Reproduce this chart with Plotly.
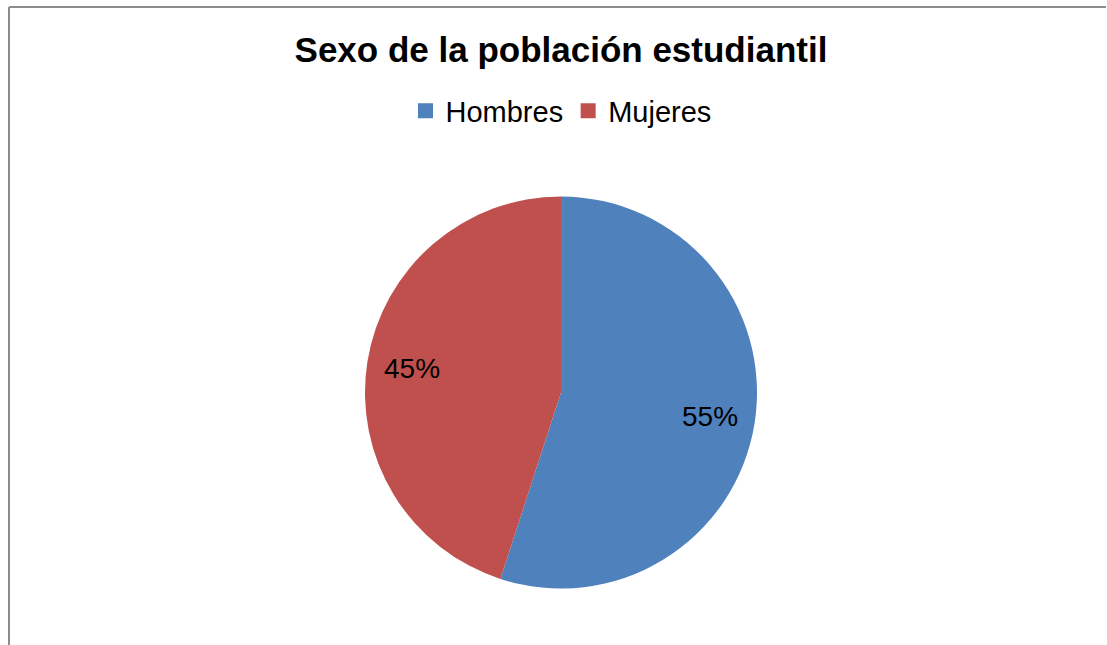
import math
import plotly.graph_objects as go

categories = ["Hombres", "Mujeres"]
values = [55, 45]
colors = ["#4F81BD", "#C0504D"]

W, H = 1107, 645
cx, cy, r = 561, 392.5, 196
label_r = 0.77  # fraction of radius where percentage labels sit

fig = go.Figure()
fig.add_trace(go.Pie(
    labels=categories,
    values=values,
    sort=False,
    direction="clockwise",
    rotation=0,
    marker=dict(colors=colors, line=dict(width=0)),
    textinfo="none",
    showlegend=False,
    domain=dict(x=[(cx - r) / W, (cx + r) / W], y=[1 - (cy + r) / H, 1 - (cy - r) / H]),
    hoverinfo="label+percent",
))

for name, col in zip(categories, colors):
    fig.add_trace(go.Scatter(x=[None], y=[None], mode="markers", name=name,
                             marker=dict(symbol="square", size=15, color=col),
                             hoverinfo="skip"))

total = sum(values)
annotations = []
cum = 0
for v in values:
    mid = (cum + v / 2) / total * 2 * math.pi
    cum += v
    px = cx + label_r * r * math.sin(mid)
    py = cy - label_r * r * math.cos(mid)
    annotations.append(dict(x=px / W, y=1 - py / H, xref="paper", yref="paper",
                            text=f"{round(v / total * 100)}%", showarrow=False,
                            xanchor="center", yanchor="middle",
                            font=dict(family="Liberation Sans, Arial", size=28, color="black")))

fig.update_layout(
    width=W, height=H,
    margin=dict(l=0, r=0, t=0, b=0),
    paper_bgcolor="white",
    plot_bgcolor="white",
    font=dict(family="Liberation Sans, Arial", color="black"),
    xaxis=dict(visible=False), yaxis=dict(visible=False),
    title=dict(text="<b>Sexo de la población estudiantil</b>", x=cx / W, xanchor="center",
               y=1 - 50 / H, yanchor="middle", font=dict(size=35, color="black")),
    legend=dict(orientation="h", x=cx / W, xanchor="center", y=1 - 111 / H, yanchor="middle",
                font=dict(size=29), itemwidth=30, traceorder="normal"),
    annotations=annotations,
    shapes=[
        dict(type="line", xref="paper", yref="paper", x0=9 / W, x1=9 / W, y0=0, y1=1 - 7 / H,
             line=dict(color="#8c8c8c", width=2)),
        dict(type="line", xref="paper", yref="paper", x0=9 / W, x1=1 - 1 / W, y0=1 - 7 / H, y1=1 - 7 / H,
             line=dict(color="#8c8c8c", width=2)),
    ],
)

fig.write_html("out.html", config={"displayModeBar": False})
